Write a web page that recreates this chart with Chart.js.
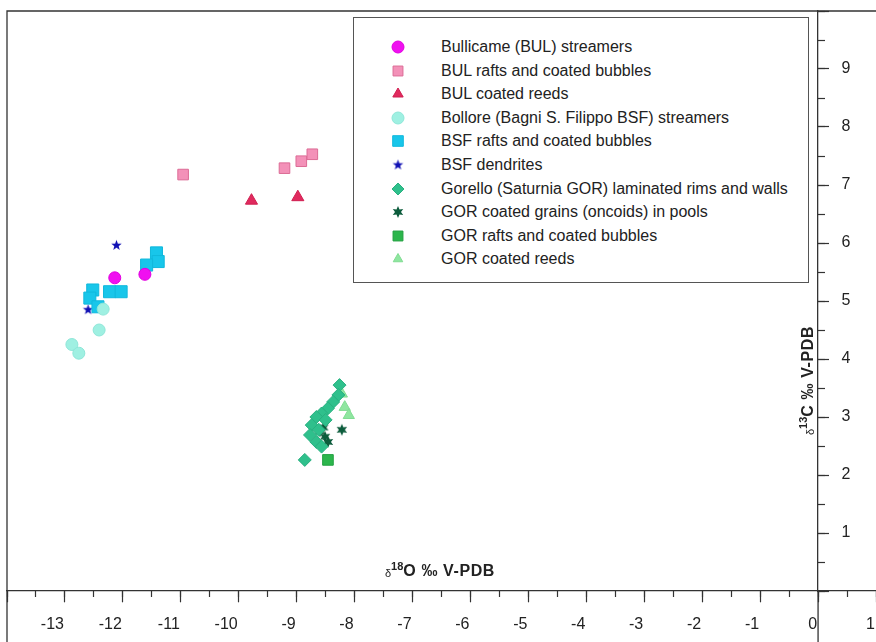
<!DOCTYPE html>
<html>
<head>
<meta charset="utf-8">
<script src="https://cdn.jsdelivr.net/npm/chart.js@4.4.1/dist/chart.umd.min.js"></script>
<style>
  html, body { margin: 0; padding: 0; background: #fff; overflow: hidden; }
  #wrap { position: relative; width: 876px; height: 642px; overflow: hidden; }
  #mainChart { display: block; }
  #legend {
    position: absolute; left: 353px; top: 17px; width: 456px; height: 266px;
    box-sizing: border-box; border: 1.5px solid #555; background: #fff;
    font-family: "Liberation Sans", Arial, sans-serif; font-size: 16px; color: #222;
  }
  #legend .row { position: absolute; left: 0; height: 20px; line-height: 20px; white-space: nowrap; }
  #legend canvas { position: absolute; left: 34px; top: 0; }
  #legend span { position: absolute; left: 87px; top: 0; }
</style>
</head>
<body>
<div id="wrap">
  <canvas id="mainChart" width="876" height="642"></canvas>
  <div id="legend"></div>
</div>
<script>
// --- Data ---
const seriesNames = [
  'Bullicame (BUL) streamers',
  'BUL rafts and coated bubbles',
  'BUL coated reeds',
  'Bollore (Bagni S. Filippo BSF) streamers',
  'BSF rafts and coated bubbles',
  'BSF dendrites',
  'Gorello (Saturnia GOR) laminated rims and walls',
  'GOR coated grains (oncoids) in pools',
  'GOR rafts and coated bubbles',
  'GOR coated reeds'
];

// d18O (x) and d13C (y), one pair of arrays per series
const bulStreamersX = [-12.14, -11.62];
const bulStreamersY = [5.40, 5.46];
const bulRaftsX = [-10.96, -9.21, -8.92, -8.73];
const bulRaftsY = [7.18, 7.29, 7.41, 7.53];
const bulReedsX = [-9.78, -8.98];
const bulReedsY = [6.73, 6.79];
const bsfStreamersX = [-12.34, -12.41, -12.88, -12.76];
const bsfStreamersY = [4.86, 4.50, 4.25, 4.10];
const bsfRaftsX = [-11.42, -11.39, -11.59, -12.23, -12.03, -12.52, -12.57, -12.43];
const bsfRaftsY = [5.83, 5.68, 5.62, 5.16, 5.16, 5.19, 5.05, 4.90];
const bsfDendritesX = [-12.11, -12.60];
const bsfDendritesY = [5.96, 4.85];
const gorRimsX = [-8.26, -8.28, -8.37, -8.46, -8.57, -8.66, -8.74, -8.77, -8.66, -8.57, -8.86, -8.50, -8.62];
const gorRimsY = [3.55, 3.38, 3.26, 3.15, 3.06, 3.00, 2.86, 2.69, 2.57, 2.49, 2.26, 2.95, 2.78];
const gorOncoidsX = [-8.60, -8.51, -8.46, -8.54, -8.22];
const gorOncoidsY = [2.75, 2.66, 2.57, 2.82, 2.78];
const gorRaftsX = [-8.46];
const gorRaftsY = [2.26];
const gorReedsX = [-8.17, -8.10, -8.22];
const gorReedsY = [3.17, 3.03, 3.40];

const seriesX = [bulStreamersX, bulRaftsX, bulReedsX, bsfStreamersX, bsfRaftsX, bsfDendritesX, gorRimsX, gorOncoidsX, gorRaftsX, gorReedsX];
const seriesY = [bulStreamersY, bulRaftsY, bulReedsY, bsfStreamersY, bsfRaftsY, bsfDendritesY, gorRimsY, gorOncoidsY, gorRaftsY, gorReedsY];

// axis ranges
const xMin = -14, xMax = 1;
const yMin = 0, yMax = 10;

// --- Styles ---
const fillColors = ['#f010f0', '#f391b8', '#e02a5e', '#9ff0e2', '#18c6ea', '#1010b4', '#2fc08c', '#0c5c3c', '#2cb64c', '#8fe6a0'];
const edgeColors = ['#e000e0', '#dc6c96', '#d01e50', '#8ee6d8', '#10b8dc', '#1010b4', '#28b080', '#0c5c3c', '#22a040', '#80dc92'];
const FONT = '"Liberation Sans", Arial, sans-serif';

function starCanvas(n, outer, inner, fill) {
  const c = document.createElement('canvas');
  const s = Math.ceil(outer * 2 + 2);
  c.width = c.height = s;
  const g = c.getContext('2d');
  g.fillStyle = fill;
  g.beginPath();
  for (let i = 0; i < 2 * n; i++) {
    const r = i % 2 ? inner : outer;
    const a = -Math.PI / 2 + i * Math.PI / n;
    g.lineTo(s / 2 + r * Math.cos(a), s / 2 + r * Math.sin(a));
  }
  g.closePath();
  g.fill();
  return c;
}

const pointStyles = ['circle', 'rect', 'triangle', 'circle', 'rect',
  starCanvas(5, 5.5, 2.3, fillColors[5]), 'rectRot', starCanvas(6, 6, 3, fillColors[7]), 'rect', 'triangle'];
const pointSizes = [6, 7.5, 7, 6, 8.5, 5, 6.5, 6, 7.5, 6.5];

// --- Plugin: frame, axis line extension, axis titles ---
function drawParts(ctx, parts) {
  let x = 0;
  parts.forEach(p => {
    ctx.font = p.font;
    ctx.letterSpacing = p.spacing || '0px';
    ctx.fillText(p.text, x, p.dy);
    x += ctx.measureText(p.text).width + (p.gap || 0);
  });
}

const framePlugin = {
  id: 'frame',
  afterDraw(chart) {
    const {ctx, chartArea, scales} = chart;
    const x0 = scales.x.getPixelForValue(0);
    ctx.save();
    ctx.strokeStyle = '#333';
    ctx.lineWidth = 1.3;
    ctx.beginPath();
    ctx.moveTo(chartArea.left, chart.height);
    ctx.lineTo(chartArea.left, chartArea.top);
    ctx.lineTo(chartArea.right, chartArea.top);
    ctx.moveTo(x0, chartArea.bottom);
    ctx.lineTo(x0, chart.height);
    ctx.stroke();

    ctx.fillStyle = '#222';
    ctx.textBaseline = 'alphabetic';
    const parts = (sup, el) => [
      {text: 'δ', font: '11px ' + FONT, dy: 1},
      {text: sup, font: 'bold 11px ' + FONT, dy: -6},
      {text: el + ' ‰ V-PDB', font: 'bold 16px ' + FONT, dy: 0, spacing: '0.6px'}
    ];
    ctx.translate(385, 576);
    drawParts(ctx, parts('18', 'O'));
    ctx.restore();

    ctx.save();
    ctx.fillStyle = '#222';
    ctx.translate(813, 435);
    ctx.rotate(-Math.PI / 2);
    drawParts(ctx, parts('13', 'C'));
    ctx.restore();
  }
};

// axes sit inside the plot, so they must not take any room in the layout
const noWidth = scale => { scale.width = 0; scale.paddingTop = 0; scale.paddingBottom = 0; };
const noHeight = scale => { scale.height = 0; scale.paddingLeft = 0; scale.paddingRight = 0; };

// --- Chart ---
const datasets = seriesNames.map((name, i) => ({
  label: name,
  data: seriesX[i].map((x, j) => ({x, y: seriesY[i][j]})),
  pointStyle: pointStyles[i],
  pointRadius: pointSizes[i],
  pointHoverRadius: pointSizes[i],
  backgroundColor: fillColors[i],
  borderColor: edgeColors[i],
  borderWidth: 1,
  showLine: false
}));

const tickFont = {family: FONT, size: 16};

const ctx = document.getElementById('mainChart').getContext('2d');
const mainChart = new Chart(ctx, {
  type: 'scatter',
  data: {datasets},
  plugins: [framePlugin],
  options: {
    responsive: false,
    animation: false,
    layout: {autoPadding: false, padding: {left: 7, top: 11, right: 0, bottom: 51}},
    plugins: {legend: {display: false}, tooltip: {enabled: false}},
    scales: {
      x: {
        type: 'linear', min: xMin, max: xMax, position: {y: 0}, afterFit: noHeight,
        ticks: {
          stepSize: 1, color: '#222', font: tickFont, padding: 13, align: 'end', labelOffset: -1, maxRotation: 0,
          callback: v => (Number.isInteger(v) && v > xMin) ? v : ''
        },
        grid: {drawOnChartArea: false, drawTicks: true, tickLength: 11, tickColor: '#333', tickWidth: 1.2},
        border: {display: true, color: '#333', width: 1.3}
      },
      xMinor: {
        type: 'linear', axis: 'x', min: xMin, max: xMax, position: {y: 0}, afterFit: noHeight,
        ticks: {stepSize: 0.5, callback: () => ''},
        grid: {drawOnChartArea: false, drawTicks: true, tickLength: 6, tickColor: '#333', tickWidth: 1.2},
        border: {display: false}
      },
      y: {
        type: 'linear', min: yMin, max: yMax, position: {x: 0}, afterFit: noWidth,
        ticks: {stepSize: 1, callback: () => ''},
        grid: {drawOnChartArea: false, drawTicks: true, tickLength: -12, tickColor: '#333', tickWidth: 1.2},
        border: {display: true, color: '#333', width: 1.3}
      },
      yMinor: {
        type: 'linear', axis: 'y', min: yMin, max: yMax, position: {x: 0}, afterFit: noWidth,
        ticks: {stepSize: 0.5, callback: () => ''},
        grid: {drawOnChartArea: false, drawTicks: true, tickLength: -7, tickColor: '#333', tickWidth: 1.2},
        border: {display: false}
      },
      // tick labels of the vertical axis, right-aligned a little right of x = 0
      yLabels: {
        type: 'linear', axis: 'y', min: yMin, max: yMax, position: {x: 0.56}, afterFit: noWidth,
        ticks: {
          stepSize: 1, color: '#222', font: tickFont,
          callback: v => (v > yMin && v < yMax) ? v : ''
        },
        grid: {display: false, drawTicks: false},
        border: {display: false}
      }
    }
  }
});

// --- HTML legend, markers drawn with Chart.js' own point helper ---
const legendEl = document.getElementById('legend');
const legendSizes = [6, 7, 6, 6, 7.5, 5, 6, 6, 7, 5.5];
seriesNames.forEach((name, i) => {
  const row = document.createElement('div');
  row.className = 'row';
  row.style.top = (19 + 23.6 * i) + 'px';
  const c = document.createElement('canvas');
  c.width = 20; c.height = 20;
  const g = c.getContext('2d');
  g.fillStyle = fillColors[i];
  g.strokeStyle = edgeColors[i];
  g.lineWidth = 1;
  Chart.helpers.drawPoint(g, {pointStyle: pointStyles[i], radius: legendSizes[i], rotation: 0, borderWidth: 1}, 10, 10);
  const s = document.createElement('span');
  s.textContent = name;
  row.appendChild(c);
  row.appendChild(s);
  legendEl.appendChild(row);
});
</script>
</body>
</html>
